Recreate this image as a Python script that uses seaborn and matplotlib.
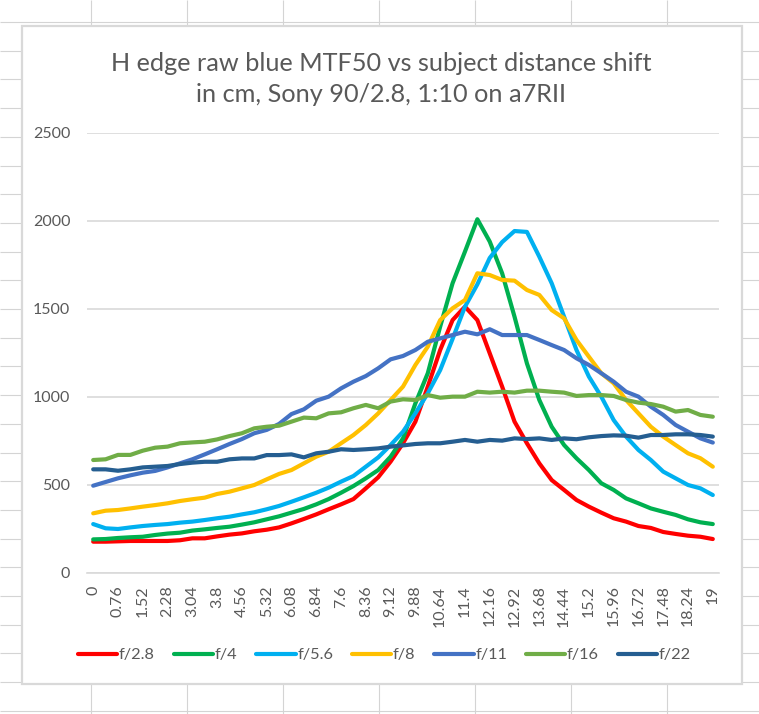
import matplotlib

matplotlib.use("Agg")
import matplotlib.pyplot as plt
from matplotlib.lines import Line2D
from matplotlib.patches import Rectangle
import numpy as np
import pandas as pd
import seaborn as sns

# shift in cm (category axis)
shift_cm = [
    0, 0.38, 0.76, 1.14, 1.52, 1.9, 2.28, 2.66, 3.04, 3.42,
    3.8, 4.18, 4.56, 4.94, 5.32, 5.7, 6.08, 6.46, 6.84, 7.22,
    7.6, 7.98, 8.36, 8.74, 9.12, 9.5, 9.88, 10.26, 10.64, 11.02,
    11.4, 11.78, 12.16, 12.54, 12.92, 13.3, 13.68, 14.06, 14.44, 14.82,
    15.2, 15.58, 15.96, 16.34, 16.72, 17.1, 17.48, 17.86, 18.24, 18.62,
    19,
]

f2_8 = [
    178, 178, 180, 182, 182, 182, 182, 186, 197, 197,
    208, 218, 225, 237, 246, 259, 282, 307, 333, 362,
    390, 420, 481, 544, 633, 737, 860, 1059, 1267, 1437,
    1513, 1437, 1248, 1059, 860, 737, 623, 528, 472, 415,
    377, 343, 311, 292, 267, 256, 233, 222, 212, 206,
    193,
]
f4 = [
    191, 193, 199, 203, 206, 216, 224, 229, 241, 248,
    256, 263, 275, 288, 305, 322, 343, 364, 390, 420,
    456, 494, 538, 585, 661, 765, 964, 1135, 1400, 1646,
    1826, 2010, 1883, 1703, 1456, 1191, 983, 831, 727, 652,
    585, 510, 472, 424, 396, 367, 348, 330, 305, 288,
    278,
]
f5_6 = [
    278, 254, 250, 259, 267, 273, 278, 286, 292, 301,
    311, 320, 333, 345, 362, 381, 405, 430, 456, 485,
    519, 551, 604, 657, 727, 803, 907, 1021, 1153, 1330,
    1513, 1640, 1790, 1880, 1943, 1938, 1797, 1646, 1456, 1267,
    1116, 1002, 869, 775, 699, 642, 576, 538, 500, 481,
    443,
]
f8 = [
    339, 354, 358, 367, 377, 386, 396, 409, 419, 428,
    449, 462, 481, 500, 532, 563, 585, 623, 661, 689,
    737, 784, 841, 907, 983, 1059, 1182, 1286, 1437, 1504,
    1551, 1703, 1693, 1665, 1661, 1608, 1580, 1494, 1447, 1324,
    1229, 1135, 1078, 983, 907, 831, 775, 727, 680, 652,
    604,
]
f11 = [
    496, 517, 538, 555, 570, 580, 600, 623, 646, 674,
    703, 733, 761, 794, 813, 847, 903, 930, 979, 1002,
    1049, 1087, 1119, 1163, 1214, 1233, 1267, 1314, 1333, 1352,
    1371, 1356, 1385, 1352, 1352, 1352, 1324, 1295, 1267, 1220,
    1182, 1135, 1087, 1030, 1002, 945, 898, 841, 803, 765,
    741,
]
f16 = [
    642, 646, 671, 671, 695, 712, 718, 737, 742, 746,
    759, 778, 794, 822, 831, 837, 860, 883, 879, 907,
    913, 936, 955, 936, 974, 987, 983, 1011, 996, 1002,
    1002, 1030, 1025, 1030, 1025, 1036, 1036, 1030, 1025, 1006,
    1011, 1011, 1006, 983, 968, 960, 945, 917, 926, 898,
    888,
]
f22 = [
    589, 589, 581, 589, 600, 604, 608, 619, 627, 632,
    632, 646, 651, 651, 670, 670, 674, 657, 680, 689,
    703, 699, 703, 708, 718, 725, 733, 737, 737, 746,
    756, 746, 756, 752, 765, 761, 765, 756, 765, 760,
    771, 778, 782, 780, 769, 784, 784, 788, 788, 784,
    775,
]

series_names = ["f/2.8", "f/4", "f/5.6", "f/8", "f/11", "f/16", "f/22"]
series_values = [f2_8, f4, f5_6, f8, f11, f16, f22]
colors = ["#FF0000", "#00B050", "#00B0F0", "#FFC000", "#4472C4", "#70AD47", "#255E91"]

rows = []
for name, vals in zip(series_names, series_values):
    for i, v in enumerate(vals):
        rows.append({"idx": i, "mtf50": v, "aperture": name})
df = pd.DataFrame(rows)

sns.set_style("white")
plt.rcParams["font.family"] = ["Lato", "DejaVu Sans"]

W, H = 759, 714
fig = plt.figure(figsize=(W / 100, H / 100), dpi=100)

# spreadsheet cells behind the chart, drawn on a full-figure pixel axes
bg = fig.add_axes([0, 0, 1, 1], zorder=-1)
bg.set_xlim(0, W)
bg.set_ylim(H, 0)
bg.axis("off")
grid_c = "#d4d4d4"
bg.hlines(np.arange(22, H, 28.7), 0, W, color=grid_c, lw=0.8, zorder=1)
bg.vlines([91, 187, 283, 379, 475, 571, 667], 0, H, color=grid_c, lw=0.8, zorder=1)
bg.add_patch(Rectangle((22, 26), 720, 658, facecolor="white",
                       edgecolor="#d9d9d9", lw=1.6, zorder=2))

ax = fig.add_axes([87 / W, 1 - 573 / H, 632 / W, 440 / H])
ax.set_facecolor("none")
sns.lineplot(data=df, x="idx", y="mtf50", hue="aperture", palette=colors,
             hue_order=series_names, lw=3.0, ax=ax, legend=False,
             solid_capstyle="round")

ax.set_xlim(-0.5, len(shift_cm) - 0.5)
ax.set_ylim(0, 2500)
ax.set_yticks([0, 500, 1000, 1500, 2000, 2500])
ax.set_xticks(range(0, len(shift_cm), 2))
ax.set_xticklabels([f"{shift_cm[i]:g}" for i in range(0, len(shift_cm), 2)],
                   rotation=90)
ax.grid(axis="y", color="#d9d9d9", lw=1.2)
ax.set_axisbelow(True)
for s in ["top", "right", "left"]:
    ax.spines[s].set_visible(False)
ax.spines["bottom"].set_color("#d9d9d9")
ax.spines["bottom"].set_linewidth(1.2)
ax.tick_params(axis="both", length=0, labelsize=11.5, colors="#595959")
ax.tick_params(axis="y", pad=12)
ax.tick_params(axis="x", pad=9)
ax.set_xlabel("")
ax.set_ylabel("")

fig.text(381 / W, 1 - 79 / H,
         "H edge raw blue MTF50 vs subject distance shift\nin cm, Sony 90/2.8, 1:10 on a7RII",
         ha="center", va="center", fontsize=18.2, color="#595959", linespacing=1.42)

handles = [Line2D([0], [0], color=c, lw=3.0, solid_capstyle="round") for c in colors]
fig.legend(handles, series_names, loc="center", bbox_to_anchor=(384.5 / W, 1 - 655 / H),
           ncol=7, frameon=False, fontsize=11.8, handlelength=2.4, handletextpad=0.1,
           columnspacing=1.15, labelcolor="#595959")

fig.savefig("out.png", dpi=100)
